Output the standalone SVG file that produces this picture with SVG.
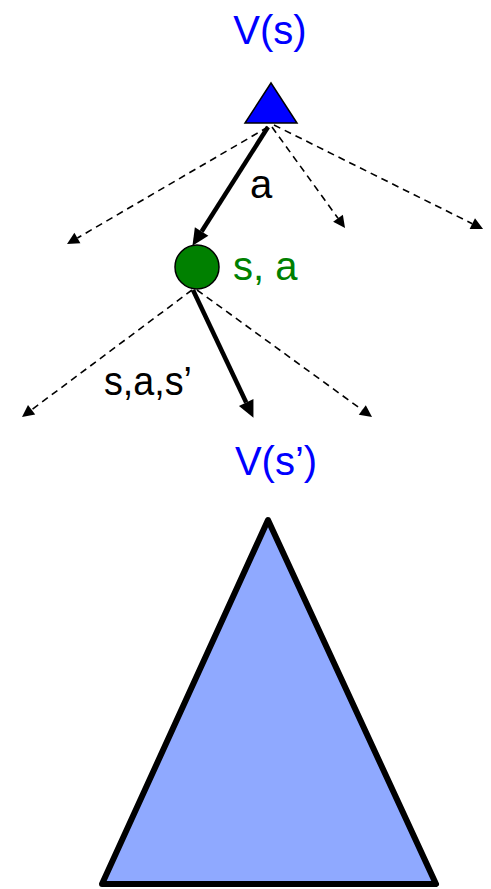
<svg xmlns="http://www.w3.org/2000/svg" width="491" height="889" viewBox="0 0 491 889">
<style>
.lbl{font-family:"Liberation Sans",Arial,sans-serif;font-size:40px}
.blue{fill:#0000FF}
.green{fill:#008000}
.blk{fill:#000}
.thick{stroke:#000;stroke-width:4.5;fill:none}
.dash{stroke:#000;stroke-width:1.6;stroke-dasharray:7 5;fill:none}
</style>
<defs>
<marker id="ah-thick" markerUnits="userSpaceOnUse" viewBox="0 -8 17 16" markerWidth="17" markerHeight="16" refX="0" refY="0" orient="auto" overflow="visible">
<path d="M0,-8 L17,0 L0,8 z" fill="#000"/>
</marker>
<marker id="ah-dash" markerUnits="userSpaceOnUse" viewBox="0 -6 12 12" markerWidth="12" markerHeight="12" refX="0" refY="0" orient="auto" overflow="visible">
<path d="M0,-6 L12,0 L0,6 z" fill="#000"/>
</marker>
</defs>
<g id="connectors">
<line class="dash" x1="268" y1="127" x2="77.4" y2="238" marker-end="url(#ah-dash)"/>
<line class="dash" x1="272" y1="127" x2="338" y2="218.3" marker-end="url(#ah-dash)"/>
<line class="dash" x1="274" y1="125" x2="472.3" y2="223.7" marker-end="url(#ah-dash)"/>
<line class="thick" x1="268" y1="127" x2="201.6" y2="231.5" marker-end="url(#ah-thick)"/>
<line class="dash" x1="192" y1="290" x2="31.6" y2="409.8" marker-end="url(#ah-dash)"/>
<line class="dash" x1="197" y1="290" x2="362.3" y2="410" marker-end="url(#ah-dash)"/>
<line class="thick" x1="193" y1="290" x2="246.2" y2="402.5" marker-end="url(#ah-thick)"/>
<text class="lbl blk" x="250" y="198">a</text>
<text class="lbl blk" x="104" y="395" textLength="88" lengthAdjust="spacingAndGlyphs">s,a,s’</text>
</g>
<g id="root">
<text class="lbl blue" x="270" y="44" text-anchor="middle">V(s)</text>
<polygon points="271,83 297,123 245,123" fill="#0000FF" stroke="#000" stroke-width="1.5" stroke-linejoin="miter"/>
</g>
<g id="chance">
<circle cx="197" cy="267" r="22" fill="#008000" stroke="#000" stroke-width="1.5"/>
<text class="lbl green" x="233" y="280">s, a</text>
</g>
<g id="subtree">
<text class="lbl blue" x="276" y="475" text-anchor="middle">V(s’)</text>
<polygon points="268,520 436,884 102,884" fill="#8FA9FF" stroke="#000" stroke-width="6" stroke-linejoin="round"/>
</g>
</svg>
